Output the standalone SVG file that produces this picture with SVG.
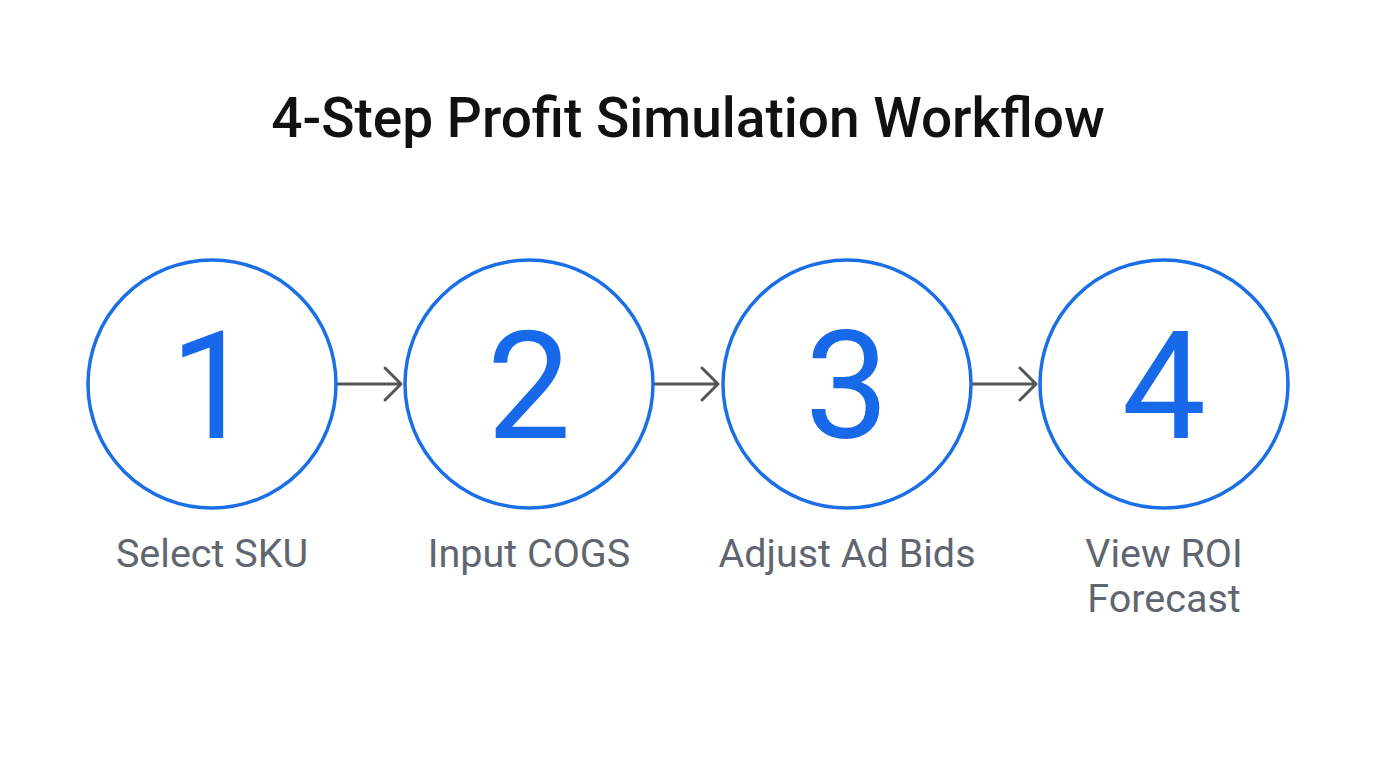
<svg xmlns="http://www.w3.org/2000/svg" width="1376" height="768" viewBox="0 0 1376 768">
<style>
.title{font-family:Roboto,"Liberation Sans",sans-serif;font-weight:500;font-size:55px;fill:#111;text-anchor:middle}
.ring{fill:#fff;stroke:#1a6fe6;stroke-width:3.5}
.num{font-family:Roboto,"Liberation Sans",sans-serif;font-size:150px;fill:#1769ea;text-anchor:middle}
.lbl{font-family:Roboto,"Liberation Sans",sans-serif;font-size:39.5px;fill:#5f6670;text-anchor:middle}
.con{stroke:#555;stroke-width:3;fill:none;stroke-linecap:round;stroke-linejoin:round}
</style>
<rect width="1376" height="768" fill="#fff"/>
<text class="title" x="688" y="137">4-Step Profit Simulation Workflow</text>
<g id="connectors">
<path class="con" d="M338 384 H401 M385 368 L401 384 L385 400"/>
<path class="con" d="M655 384 H718 M702 368 L718 384 L702 400"/>
<path class="con" d="M973 384 H1036 M1020 368 L1036 384 L1020 400"/>
</g>
<g id="step1">
<circle class="ring" cx="212" cy="384" r="124"/>
<text class="num" x="212" y="438">1</text>
<text class="lbl" x="212" y="567">Select SKU</text>
</g>
<g id="step2">
<circle class="ring" cx="529" cy="384" r="124"/>
<text class="num" x="529" y="438">2</text>
<text class="lbl" x="529" y="567">Input COGS</text>
</g>
<g id="step3">
<circle class="ring" cx="847" cy="384" r="124"/>
<text class="num" x="847" y="438">3</text>
<text class="lbl" x="847" y="567">Adjust Ad Bids</text>
</g>
<g id="step4">
<circle class="ring" cx="1164" cy="384" r="124"/>
<text class="num" x="1164" y="438">4</text>
<text class="lbl" x="1164" y="567">View ROI</text>
<text class="lbl" x="1164" y="612">Forecast</text>
</g>
</svg>
